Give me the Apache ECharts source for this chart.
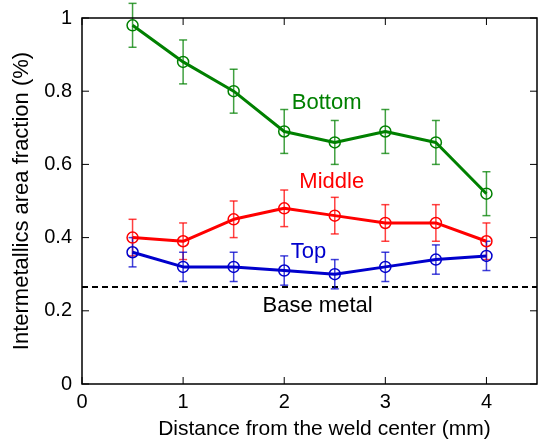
<!DOCTYPE html>
<html><head><meta charset="utf-8">
<script src="https://cdn.jsdelivr.net/npm/echarts@6/dist/echarts.min.js"></script>
<style>html,body{margin:0;padding:0;background:#fff}#c{width:540px;height:445px}</style>
</head><body><div id="c"></div>
<script>
const xs = [0.5, 1, 1.5, 2, 2.5, 3, 3.5, 4];
const bottomVals = [0.98, 0.88, 0.80, 0.69, 0.66, 0.69, 0.66, 0.52];
const bottomErr  = [0.06, 0.06, 0.06, 0.06, 0.06, 0.06, 0.06, 0.06];
const middleVals = [0.40, 0.39, 0.45, 0.48, 0.46, 0.44, 0.44, 0.39];
const middleErr  = [0.05, 0.05, 0.05, 0.05, 0.05, 0.05, 0.05, 0.05];
const topVals    = [0.36, 0.32, 0.32, 0.31, 0.30, 0.32, 0.34, 0.35];
const topErr     = [0.04, 0.04, 0.04, 0.04, 0.04, 0.04, 0.04, 0.04];
const baseMetal = 0.265;
const xRange = [0, 4.5];
const yRange = [0, 1];
const xTicks = [0, 1, 2, 3, 4];
const yTicks = [0, 0.2, 0.4, 0.6, 0.8, 1];
const seriesLabels = [
  {text: 'Bottom', x: 2.42, y: 0.768, color: '#008000'},
  {text: 'Middle', x: 2.47, y: 0.553, color: '#ff0000'},
  {text: 'Top', x: 2.24, y: 0.362, color: '#0000cc'},
  {text: 'Base metal', x: 2.33, y: 0.212, color: '#000000'}
];

const FONT = 'Liberation Sans, Arial, sans-serif';
function errSeries(vals, errs, color) {
  return {
    type: 'custom', xAxisIndex: 0, yAxisIndex: 0, z: 2,
    data: xs.map((x, i) => [x, vals[i] - errs[i], vals[i] + errs[i]]),
    renderItem: function (params, api) {
      const lo = api.coord([api.value(0), api.value(1)]);
      const hi = api.coord([api.value(0), api.value(2)]);
      const w = 4;
      const st = {stroke: color, lineWidth: 1.5, opacity: 0.75};
      return {type: 'group', children: [
        {type: 'line', shape: {x1: lo[0], y1: lo[1], x2: hi[0], y2: hi[1]}, style: st},
        {type: 'line', shape: {x1: lo[0]-w, y1: lo[1], x2: lo[0]+w, y2: lo[1]}, style: st},
        {type: 'line', shape: {x1: hi[0]-w, y1: hi[1], x2: hi[0]+w, y2: hi[1]}, style: st}
      ]};
    }
  };
}
function lineSeries(vals, color) {
  return {
    type: 'line', z: 3,
    data: xs.map((x, i) => [x, vals[i]]),
    symbol: 'circle', symbolSize: 11, showSymbol: true,
    lineStyle: {color: color, width: 3},
    itemStyle: {color: 'rgba(0,0,0,0)', borderColor: color, borderWidth: 1.5},
    emphasis: {disabled: true}
  };
}
// frame + inward ticks on all four sides, placed through the axis scales
const frameSeries = {
  type: 'custom', z: 5, silent: true,
  data: [[xRange[0], yRange[0]]],
  renderItem: function (params, api) {
    const bl = api.coord([xRange[0], yRange[0]]);
    const tr = api.coord([xRange[1], yRange[1]]);
    const L = 7;
    const st = {stroke: '#000', lineWidth: 1.5, fill: null};
    const kids = [{type: 'rect', shape: {x: bl[0], y: tr[1], width: tr[0] - bl[0], height: bl[1] - tr[1]}, style: st}];
    const tst = {stroke: '#000', lineWidth: 1};
    xTicks.forEach(t => {
      const px = api.coord([t, yRange[0]])[0];
      kids.push({type: 'line', shape: {x1: px, y1: bl[1], x2: px, y2: bl[1] - L}, style: tst});
      kids.push({type: 'line', shape: {x1: px, y1: tr[1], x2: px, y2: tr[1] + L}, style: tst});
    });
    yTicks.forEach(t => {
      const py = api.coord([xRange[0], t])[1];
      kids.push({type: 'line', shape: {x1: bl[0], y1: py, x2: bl[0] + L, y2: py}, style: tst});
      kids.push({type: 'line', shape: {x1: tr[0], y1: py, x2: tr[0] - L, y2: py}, style: tst});
    });
    return {type: 'group', children: kids};
  }
};
const chart = echarts.init(document.getElementById('c'));
chart.setOption({
  animation: false,
  grid: {left: 82, right: 2, top: 18, bottom: 60},
  xAxis: {type: 'value', min: xRange[0], max: xRange[1], interval: 1,
    axisLine: {show: false}, axisTick: {show: false}, splitLine: {show: false},
    name: 'Distance from the weld center (mm)', nameLocation: 'middle', nameGap: 35,
    nameTextStyle: {fontFamily: FONT, fontSize: 21, color: '#000', padding: [0, 0, 0, 30]},
    axisLabel: {fontFamily: FONT, fontSize: 20, color: '#000', margin: 8,
      formatter: v => xTicks.includes(v) ? String(v) : ''}},
  yAxis: {type: 'value', min: yRange[0], max: yRange[1], interval: 0.2,
    axisLine: {show: false}, axisTick: {show: false}, splitLine: {show: false},
    name: 'Intermetallics area fraction (%)', nameLocation: 'middle', nameGap: 47,
    nameTextStyle: {fontFamily: FONT, fontSize: 22, color: '#000'},
    axisLabel: {fontFamily: FONT, fontSize: 20, color: '#000', margin: 10,
      formatter: v => { const t = yTicks.find(k => Math.abs(k - v) < 1e-9); return t === undefined ? '' : String(t); }}},
  series: [
    errSeries(bottomVals, bottomErr, '#008000'),
    errSeries(middleVals, middleErr, '#ff0000'),
    errSeries(topVals, topErr, '#0000cc'),
    lineSeries(bottomVals, '#008000'),
    lineSeries(middleVals, '#ff0000'),
    lineSeries(topVals, '#0000cc'),
    {
      type: 'line', z: 1, symbol: 'none',
      data: [[xRange[0], baseMetal], [xRange[1], baseMetal]],
      lineStyle: {color: '#000', width: 2, type: [6, 4]}
    },
    {
      type: 'scatter', symbolSize: 0, z: 4,
      itemStyle: {opacity: 1},
      data: seriesLabels.map(l => ({value: [l.x, l.y],
        itemStyle: {opacity: 1},
        label: {show: true, position: 'inside', formatter: l.text, color: l.color, opacity: 1,
          textBorderWidth: 0, fontFamily: FONT, fontSize: 22}}))
    },
    frameSeries
  ]
});
</script></body></html>
